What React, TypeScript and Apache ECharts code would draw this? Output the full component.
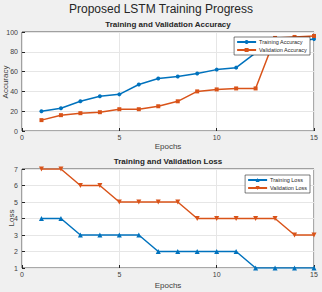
import React, { useEffect, useRef } from "react";
import * as echarts from "echarts";

const epochs = [1, 2, 3, 4, 5, 6, 7, 8, 9, 10, 11, 12, 13, 14, 15];
const trainAcc = [20, 23, 30, 35, 37, 47, 53, 55, 58, 62, 64, 79, 85, 90, 93];
const valAcc = [11, 16, 18, 19, 22, 22, 25, 30, 40, 42, 43, 43, 94, 95, 96];
const trainLoss = [4, 4, 3, 3, 3, 3, 2, 2, 2, 2, 2, 1, 1, 1, 1];
const valLoss = [7, 7, 6, 6, 5, 5, 5, 5, 4, 4, 4, 4, 4, 3, 3];

const BLUE = "#0072BD";
const ORANGE = "#D95319";
const FONT = "Liberation Sans, Arial, sans-serif";

const pair = (ys: number[]) => epochs.map((e, i) => [e, ys[i]]);

export default function App() {
  const ref = useRef<HTMLDivElement>(null);
  useEffect(() => {
    const chart = echarts.init(ref.current!, undefined, { renderer: "svg" });
    const xAxisBase = {
      type: "value" as const,
      min: 0,
      max: 15,
      interval: 5,
      name: "Epochs",
      nameLocation: "middle" as const,
      nameGap: 11,
      nameTextStyle: { fontSize: 8, color: "#404040", fontFamily: FONT },
      axisLine: { show: false },
      axisTick: { show: true, inside: true, length: 3, lineStyle: { color: "#262626" } },
      axisLabel: { fontSize: 7, color: "#404040", margin: 3, fontFamily: FONT },
      splitLine: { show: true, lineStyle: { color: "#e6e6e6", width: 1 } },
    };
    const yAxisBase = {
      type: "value" as const,
      axisLine: { show: false },
      axisTick: { show: true, inside: true, length: 3, lineStyle: { color: "#262626" } },
      axisLabel: { fontSize: 7, color: "#404040", margin: 4, fontFamily: FONT },
      splitLine: { show: true, lineStyle: { color: "#e6e6e6", width: 1 } },
    };
    const legendBase = {
      orient: "vertical" as const,
      backgroundColor: "#ffffff",
      borderColor: "#262626",
      borderWidth: 0.6,
      borderRadius: 0,
      padding: [2, 3, 2, 2],
      itemGap: 2,
      itemWidth: 19,
      itemHeight: 5,
      textStyle: { fontSize: 5.5, color: "#262626", fontFamily: FONT, padding: [0, 0, 0, -2] },
    };
    const gridBase = {
      left: 22, right: 8, height: 99, show: true, backgroundColor: "#ffffff",
      borderColor: "#262626", borderWidth: 0.8, containLabel: false, outerBoundsMode: "none",
    };
    const yName = (text: string, x: number, y: number) => ({
      type: "text",
      x,
      y,
      rotation: Math.PI / 2,
      style: {
        text,
        align: "center",
        verticalAlign: "middle",
        fontSize: 8,
        fill: "#404040",
        fontFamily: FONT,
      },
    });
    chart.setOption({
      animation: false,
      backgroundColor: "#f0f0f0",
      title: [
        {
          text: "Proposed LSTM Training Progress",
          left: "center",
          top: 3,
          padding: 0,
          textStyle: { fontSize: 12, fontWeight: "normal", color: "#262626", fontFamily: FONT },
        },
        {
          text: "Training and Validation Accuracy",
          left: 168,
          textAlign: "center",
          top: 20,
          padding: 0,
          textStyle: { fontSize: 8, fontWeight: "bold", color: "#262626", fontFamily: FONT },
        },
        {
          text: "Training and Validation Loss",
          left: 168,
          textAlign: "center",
          top: 157,
          padding: 0,
          textStyle: { fontSize: 8, fontWeight: "bold", color: "#262626", fontFamily: FONT },
        },
      ],
      graphic: [yName("Accuracy", 5, 82), yName("Loss", 11, 218)],
      grid: [
        { ...gridBase, top: 32 },
        { ...gridBase, top: 169 },
      ],
      xAxis: [
        { ...xAxisBase, gridIndex: 0 },
        { ...xAxisBase, gridIndex: 1, nameGap: 13 },
      ],
      yAxis: [
        { ...yAxisBase, gridIndex: 0, min: 0, max: 100, interval: 20 },
        { ...yAxisBase, gridIndex: 1, min: 1, max: 7, interval: 1 },
      ],
      legend: [
        { ...legendBase, right: 12, top: 37, data: ["Training Accuracy", "Validation Accuracy"] },
        { ...legendBase, right: 12, top: 175, data: ["Training Loss", "Validation Loss"] },
      ],
      series: [
        {
          name: "Training Accuracy", type: "line", xAxisIndex: 0, yAxisIndex: 0,
          data: pair(trainAcc), color: BLUE, symbol: "circle", symbolSize: 4,
          lineStyle: { width: 1.5 },
        },
        {
          name: "Validation Accuracy", type: "line", xAxisIndex: 0, yAxisIndex: 0,
          data: pair(valAcc), color: ORANGE, symbol: "rect", symbolSize: 4,
          lineStyle: { width: 1.5 },
        },
        {
          name: "Training Loss", type: "line", xAxisIndex: 1, yAxisIndex: 1,
          data: pair(trainLoss), color: BLUE, symbol: "triangle", symbolSize: 5,
          lineStyle: { width: 1.5 },
        },
        {
          name: "Validation Loss", type: "line", xAxisIndex: 1, yAxisIndex: 1,
          data: pair(valLoss), color: ORANGE, symbol: "triangle", symbolRotate: 180, symbolSize: 5,
          lineStyle: { width: 1.5 },
        },
      ],
    });
    return () => chart.dispose();
  }, []);
  return <div ref={ref} style={{ width: 322, height: 292, position: "absolute", left: 0, top: 0 }} />;
}
